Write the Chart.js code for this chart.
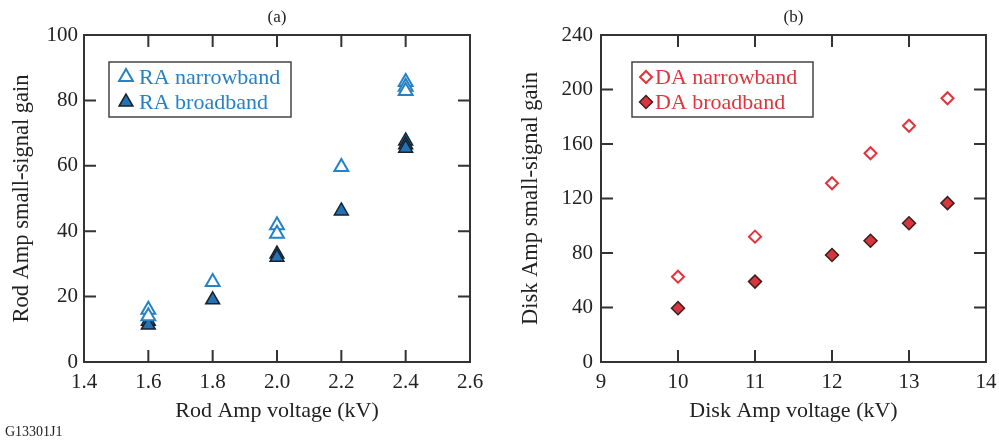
<!DOCTYPE html>
<html>
<head>
<meta charset="utf-8">
<script src="https://cdn.jsdelivr.net/npm/chart.js@4/dist/chart.umd.min.js"></script>
<style>
html, body { margin: 0; padding: 0; background: #fff; }
#marco { position: relative; width: 999px; height: 445px; }
canvas { position: absolute; top: 0; }
</style>
</head>
<body>
<div id="marco">
	<canvas id="graficoA" width="500" height="445" style="left:0px;width:500px;height:445px"></canvas>
	<canvas id="graficoB" width="499" height="445" style="left:500px;width:499px;height:445px"></canvas>
</div>
<script>
// (a) Rod Amp
var raVoltaje = [1.6, 1.6, 1.8, 2.0, 2.0, 2.2, 2.4, 2.4, 2.4];
var raAngosta = [16, 14, 24.5, 41.8, 39.2, 59.6, 85.6, 84.2, 82.9];
var raAncha = [12.5, 11.3, 19, 33, 32, 46.2, 67.6, 66.4, 65.4];
var ticksXA = [1.4, 1.6, 1.8, 2.0, 2.2, 2.4, 2.6];
var ticksYA = [0, 20, 40, 60, 80, 100];

// (b) Disk Amp
var daVoltaje = [10, 11, 12, 12.5, 13, 13.5];
var daAngosta = [62.6, 92, 131.2, 153.2, 173.4, 193.6];
var daAncha = [39.5, 59, 78.5, 89, 101.8, 116.6];
var ticksXB = [9, 10, 11, 12, 13, 14];
var ticksYB = [0, 40, 80, 120, 160, 200, 240];

var fuente = "'Liberation Serif', 'Times New Roman', serif";
var colorEje = "#333333";

function puntos(xs, ys)
{
	var res = [];
	for(i=0; i<xs.length; i++)
		res.push({x: xs[i], y: ys[i]});
	return res;
}

function dibujaMarca(ctx, ds, x, y)
{
	ctx.save();
	ctx.fillStyle = ds.backgroundColor;
	ctx.strokeStyle = ds.borderColor;
	ctx.lineWidth = ds.borderWidth;
	Chart.helpers.drawPoint(ctx, {pointStyle: ds.pointStyle, radius: ds.pointRadius, rotation: 0, borderWidth: ds.borderWidth}, x, y);
	ctx.restore();
}

var pluginMarco = {
	id: 'marco',
	afterDraw: function(chart) {
		var ctx = chart.ctx;
		var a = chart.chartArea;
		var op = chart.options.plugins.marco;
		var sx = chart.scales.x, sy = chart.scales.y;
		ctx.save();
		ctx.strokeStyle = colorEje;
		ctx.lineWidth = 2;
		ctx.strokeRect(a.left, a.top, a.right - a.left, a.bottom - a.top);
		ctx.beginPath();
		sx.ticks.forEach(function(t) {
			var px = sx.getPixelForValue(t.value);
			ctx.moveTo(px, a.bottom); ctx.lineTo(px, a.bottom - 12);
			ctx.moveTo(px, a.top); ctx.lineTo(px, a.top + 12);
		});
		sy.ticks.forEach(function(t) {
			var py = sy.getPixelForValue(t.value);
			ctx.moveTo(a.left, py); ctx.lineTo(a.left + 12, py);
			ctx.moveTo(a.right, py); ctx.lineTo(a.right - 12, py);
		});
		ctx.stroke();

		// letra del panel
		ctx.fillStyle = "#222";
		ctx.font = "17px " + fuente;
		ctx.textAlign = "center";
		ctx.textBaseline = "middle";
		ctx.fillText(op.letra, (a.left + a.right) / 2, 18);

		// caja de leyenda
		var c = op.caja;
		ctx.fillStyle = "#fff";
		ctx.fillRect(c.x, c.y, c.w, c.h);
		ctx.lineWidth = 1.5;
		ctx.strokeStyle = "#444";
		ctx.strokeRect(c.x, c.y, c.w, c.h);
		ctx.font = "22px " + fuente;
		ctx.textAlign = "left";
		ctx.textBaseline = "middle";
		chart.data.datasets.forEach(function(ds, k) {
			var ly = c.y + 15 + k * 25;
			dibujaMarca(ctx, ds, c.x + c.marca, ly);
			ctx.fillStyle = op.colorTexto;
			ctx.fillText(ds.label, c.x + c.texto, ly + 1);
		});

		if(op.codigo)
		{
			ctx.fillStyle = "#222";
			ctx.font = "14px " + fuente;
			ctx.textAlign = "left";
			ctx.fillText(op.codigo, 5, 432);
		}
		ctx.restore();
	}
};

function generaGrafico(id, datos, ejes, extra)
{
	var ctx = document.getElementById(id);
	return new Chart(ctx, {
		type: 'scatter',
		data: {datasets: datos},
		plugins: [pluginMarco],
		options: {
			responsive: false,
			animation: false,
			layout: {padding: {top: 35, right: extra.derecha, left: 0, bottom: 0}},
			plugins: {
				legend: {display: false},
				tooltip: {enabled: false},
				marco: extra
			},
			scales: {
				x: {
					type: 'linear',
					min: ejes.xs[0],
					max: ejes.xs[ejes.xs.length - 1],
					afterBuildTicks: function(s) { s.ticks = ejes.xs.map(function(v) { return {value: v}; }); },
					afterFit: function(s) { s.height = 83; s.paddingLeft = 0; s.paddingRight = 0; },
					grid: {display: false, drawTicks: false},
					border: {display: false},
					ticks: {
						color: "#222",
						padding: 8,
						maxRotation: 0,
						font: {family: fuente, size: 21},
						callback: function(v) { return ejes.dec ? Number(v).toFixed(1) : String(v); }
					},
					title: {display: true, text: ejes.tx, color: "#222", font: {family: fuente, size: 22}, padding: {top: 0, bottom: 21}}
				},
				y: {
					type: 'linear',
					min: ejes.ys[0],
					max: ejes.ys[ejes.ys.length - 1],
					afterBuildTicks: function(s) { s.ticks = ejes.ys.map(function(v) { return {value: v}; }); },
					afterFit: function(s) { s.width = extra.izquierda; },
					grid: {display: false, drawTicks: false},
					border: {display: false},
					ticks: {
						color: "#222",
						padding: extra.pady,
						font: {family: fuente, size: 21}
					},
					title: {display: true, text: ejes.ty, color: "#222", font: {family: fuente, size: 22.5}, padding: {top: extra.padt, bottom: 0}}
				}
			}
		}
	});
}

generaGrafico("graficoA", [
	{label: "RA narrowband", data: puntos(raVoltaje, raAngosta), pointStyle: 'triangle', pointRadius: 8, backgroundColor: "#ffffff", borderColor: "#2582c6", borderWidth: 2},
	{label: "RA broadband", data: puntos(raVoltaje, raAncha), pointStyle: 'triangle', pointRadius: 8, backgroundColor: "#2272b4", borderColor: "#18212c", borderWidth: 1.5}
], {xs: ticksXA, ys: ticksYA, dec: true, tx: "Rod Amp voltage (kV)", ty: "Rod Amp small-signal gain"},
{letra: "(a)", derecha: 30, izquierda: 84, pady: 6, padt: 9, colorTexto: "#2582c6", codigo: "G13301J1",
 caja: {x: 109, y: 62, w: 182, h: 55, marca: 17, texto: 30}});

generaGrafico("graficoB", [
	{label: "DA narrowband", data: puntos(daVoltaje, daAngosta), pointStyle: 'rectRot', pointRadius: 6, backgroundColor: "#ffffff", borderColor: "#e0343d", borderWidth: 2},
	{label: "DA broadband", data: puntos(daVoltaje, daAncha), pointStyle: 'rectRot', pointRadius: 6.5, backgroundColor: "#d8353c", borderColor: "#3a2020", borderWidth: 1.5}
], {xs: ticksXB, ys: ticksYB, dec: false, tx: "Disk Amp voltage (kV)", ty: "Disk Amp small-signal gain"},
{letra: "(b)", derecha: 13, izquierda: 101, pady: 8, padt: 18, colorTexto: "#e0343d", codigo: null,
 caja: {x: 132, y: 62, w: 181, h: 55, marca: 14, texto: 23}});
</script>
</body>
</html>
